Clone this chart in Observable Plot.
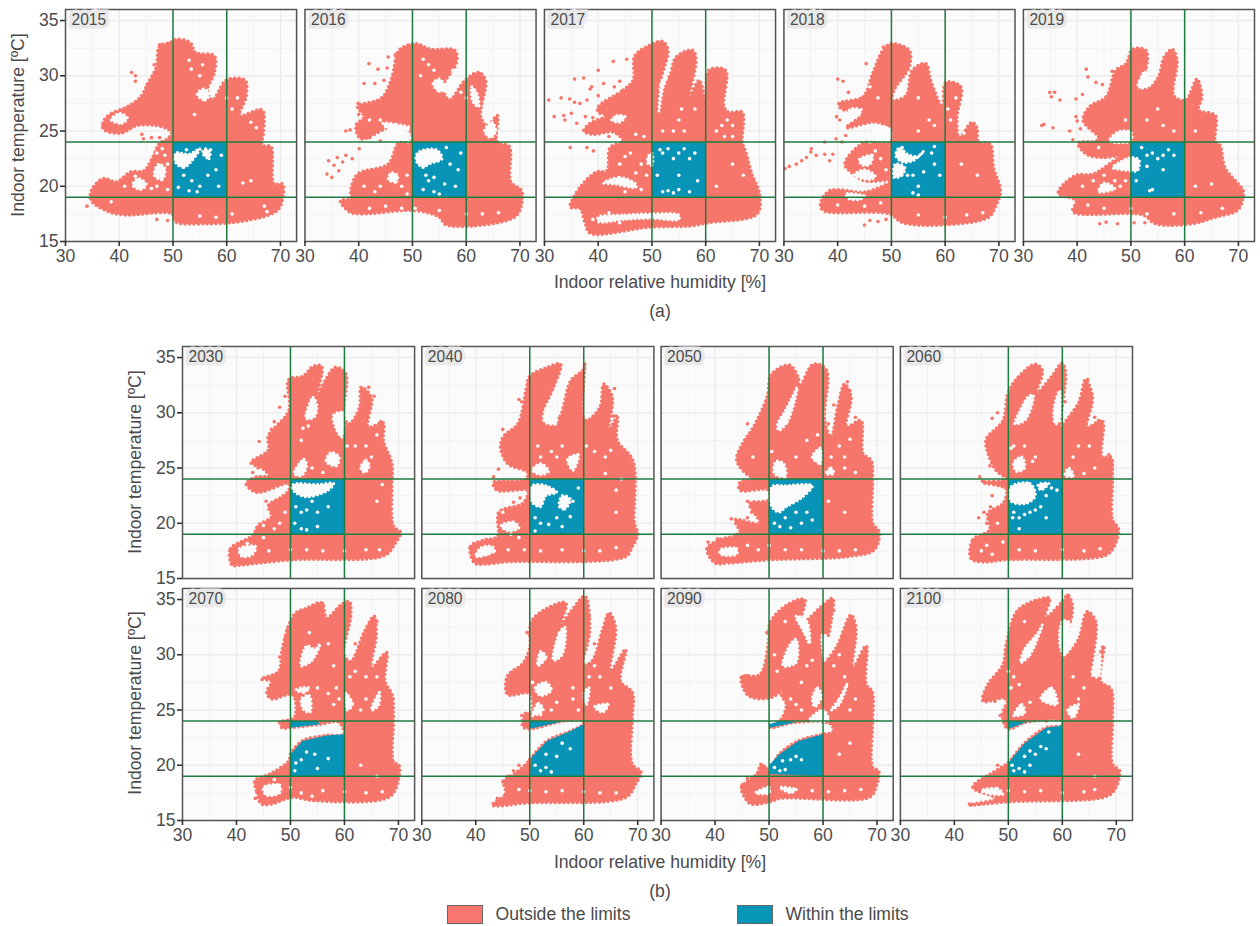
<!DOCTYPE html>
<html><head><meta charset="utf-8">
<script src="https://cdn.jsdelivr.net/npm/d3@7"></script>
<script src="https://cdn.jsdelivr.net/npm/@observablehq/plot@0.6"></script>
<style>
html,body{margin:0;padding:0;background:#fff;}
#root{position:relative;width:1260px;height:926px;overflow:hidden;font-family:"Liberation Sans",Arial,sans-serif;color:#4a4a4a;}
#root svg{position:absolute;left:0;background:transparent;}
.t{position:absolute;font-size:17.6px;white-space:nowrap;transform:translate(-50%,-50%);}
.r{transform:translate(-50%,-50%) rotate(-90deg);}
.sw{position:absolute;width:36px;height:19px;border:1px solid #666;box-sizing:border-box;}
</style></head><body><div id="root"></div>
<script>
const yearsHistoric=[2015,2016,2017,2018,2019];
const yearsFuture=[2030,2040,2050,2060,2070,2080,2090,2100];
const xTicks=[30,40,50,60,70], yTicks=[15,20,25,30,35];
const xMinor=[35,45,55,65], yMinor=[17.5,22.5,27.5,32.5];
const tempLimits=[19,24], humLimits=[50,60];
const square=[[50,19],[60,19],[60,24],[50,24]];

// outline of each cloud, holes in it, in-limit areas, isolated points, small holes (humidity %, temperature °C)
const outside2015=[[37.2,26],[38.6,26.6],[41.5,27.2],[44,28.1],[45.3,29.3],[46.9,30.8],[47.5,32.7],[49.4,33],[50.7,33.3],[53.2,33],[54.2,32.1],[57.7,31.8],[57.7,30.3],[56.4,28.7],[57.4,27.8],[59.9,29.6],[63.4,29.6],[63.6,28.1],[62.4,26.4],[66.6,26.9],[66.8,24.8],[66.6,23.7],[68.2,23.6],[68.8,20.2],[70.4,20.2],[70.4,18.9],[69.4,17.8],[63.7,16.9],[56,16.6],[50.4,16.8],[49.8,17.5],[41.1,17.4],[38,17.7],[34.8,18.7],[34.8,19.6],[37,20.7],[39.5,20.4],[42.1,21.3],[44.6,21.4],[46.2,22.6],[47.5,23.9],[49,24.3],[49.7,24.9],[47.8,25.4],[43.4,25.5],[40.2,24.8],[37,25.2]];
const gaps2015=[[[50.4,22.2],[52,21.7],[53.5,22.3],[55,23.4],[53,22.9],[50.5,23]],[[38.5,26],[40.5,25.7],[41.5,26.2],[40,26.6]],[[54.5,28.3],[56,27.8],[56.8,28.4],[55.6,28.8]],[[55.5,23],[56.7,22.5],[56.9,23.1],[56,23.4]],[[42.5,20.1],[44,19.7],[45,20.2],[43.5,20.7]],[[46.5,21],[48,20.6],[48.5,21.6],[47.3,22]]];
const within2015=[square];
const lone2015=[[34,18.2],[42.3,30.3],[43,30],[43,29.5],[44.2,24.7],[44.5,24.3],[46,24.4],[47.5,24.4],[47,17],[49,16.9],[45.2,29.2],[46.5,31],[47.5,32.8],[49.2,32.9],[60,29.5],[37,25.5],[38,25.1]];
const specks2015=[[52.5,23.3],[54,23],[52,21],[53.5,20.5],[55,20],[56.5,21],[58,21.5],[58.5,20],[53,19.6],[54.5,19.5],[51,19.9],[57,23.3],[59,22.8],[43,20.9],[41,20],[47,20],[49,22],[48.5,22.8],[47,23],[48,23.4],[49,19.7],[46,19.8],[38.5,18.6],[53,31.4],[53.4,30.6],[55,30],[55.5,31],[54,26.5],[60,28],[62,28],[61,27],[64.5,25.8],[65.5,25.3],[61,17.5],[58,17.2],[55,17.3],[63,20.3],[64.5,20.5],[67,18.2],[67.5,17.7]];

const outside2016=[[39.8,27.2],[44.3,28],[46.2,29.9],[47.5,32.3],[50.6,32.9],[53.4,32.4],[57.9,32.3],[58.2,31.2],[55.7,29],[56.9,27.8],[59.8,29.6],[62.3,30.3],[63.6,29.6],[62.7,26.3],[63.9,25.5],[65.8,26.4],[65.8,24],[68,23.6],[68.3,20.4],[70.3,19.6],[70.3,18.4],[69,17.2],[56.3,16.5],[55,17.2],[50.6,17.8],[40.4,17.5],[38.2,17.7],[36.6,18.7],[38.5,18.9],[38.5,19.6],[39.8,21.1],[45.5,22],[47.4,23.9],[49.7,23.9],[49.7,24.9],[46.8,25.5],[40.4,24.3],[39.5,25.5],[41,26.3]];
const gaps2016=[[[50.8,22.2],[52,21.7],[53,22],[55.5,22.5],[54.5,23.3],[51.5,23.2],[50.7,22.8]],[[44.5,25.7],[47,25.6],[49.5,25.3],[49,25.1],[46,25]],[[53.8,29.3],[55,28.6],[56.3,28.8],[55,29.7]],[[45.5,20.6],[47,20.4],[47.2,21],[46,21.2]],[[61,29],[62,28.4],[62.3,27.2],[61.3,27.6]],[[63.4,25],[64.8,25.8],[65.5,25],[64.5,24.4]]];
const within2016=[square];
const lone2016=[[34.1,21.1],[35,20.8],[36.3,21.4],[34.4,22.3],[36,22.6],[37.6,22.8],[38.8,22.5],[40.1,23.4],[35.4,21.9],[37,22.2],[37.6,25],[38.4,25.1],[41.9,31.1],[43.6,30.6],[45.5,31.7],[41,29.3],[43,29.3],[44.7,29.6],[45.3,30.7],[46.8,31.9],[39.9,27.5],[40,26.5],[42,24.4],[44,24.1],[62.5,30.2]];
const specks2016=[[52,19.7],[54,19.5],[55,19.3],[53,20.5],[56,20.2],[58,20],[58.5,21.5],[57,22],[59,23],[56.3,23.5],[54,20.8],[52.5,21],[41,20],[43,19.5],[44,20],[48,20],[49,21],[49,19.3],[42,18],[45,18.2],[48,18],[50.5,18],[53,31],[54,30.5],[51.5,30],[52,31.5],[57.5,30.5],[59,28.5],[60,28],[55,17.8],[60,17.5],[63,17.5],[66,17.6],[44,26],[42,26]];

const outside2017=[[40,27.2],[44.6,28.7],[46.5,29.6],[46.8,31.8],[49.3,32.7],[52,33.1],[53,32.3],[52,30.3],[51.1,28.7],[53.3,30],[54.5,31.7],[57.6,32.3],[58.2,31.4],[57,28.1],[58.8,29.6],[60,27.8],[60.6,30.5],[63.7,30.5],[63.4,27.2],[64.3,26.7],[66.8,26.7],[66.8,24],[67.4,23.2],[68.6,21.1],[70,19.3],[69.6,17.5],[60.6,16.7],[57,16.4],[49.6,16.3],[38.5,15.75],[37.6,16.6],[36.6,18],[34.8,18.1],[36.6,19.9],[39.7,21.3],[41.6,21.4],[42.2,23.5],[44.6,24.1],[42.8,24.9],[39.1,24.7],[37.3,25],[38.5,25.7],[41.6,26.4],[40,26.7]];
const gaps2017=[[[49.2,22.1],[50,21.9],[50,23],[49.3,22.7]],[[40,17.2],[45,17.4],[50,17.5],[55,17.4],[55,17],[50,17.1],[45,17],[40,16.8]],[[41,20.3],[44,20.8],[47,20.2],[47,19.9],[43,20.2]],[[51.3,26.8],[52,29.6],[52.6,29.7],[52,28.8]],[[42.5,26],[43.5,26.4],[45,26.3],[44,25.8]]];
const within2017=[square];
const lone2017=[[30.8,27.8],[33.1,28],[34.7,27.9],[35.6,27.6],[31.8,26.3],[33.6,26.4],[35,26.6],[35.6,29.7],[37.3,29.8],[38.8,29],[40,30.5],[42.8,31.3],[45.3,31.5],[34.8,23.5],[37.9,23.5],[39.1,23.2],[41,29.3],[36.6,27.5],[37.9,27.8],[38.5,28.8],[40,28.2],[43,29],[44,29.5],[36,25.7],[37.6,26.3],[39,26.2],[33.8,26],[41.8,25],[42,24.5]];
const specks2017=[[51.5,23.3],[52,23],[53,23.4],[54,22.5],[55,23],[56,23.4],[57,22.5],[58,23],[51,21],[53,19.6],[54,19.4],[55,19.7],[52,19.5],[55,21],[57,19.5],[58.5,20.5],[44,22],[45,22.7],[46,23],[48,22],[47,21.2],[49,21],[48,19.7],[45,19.5],[42,17.6],[39,17],[44,16.7],[62,25],[63,25.5],[64,26],[65,25.5],[63.5,24.5],[65,24.5],[55,26],[56,25],[54,25],[52,25],[47,24.7],[48.5,24.5],[65,22],[67,21],[62,20],[55.5,27],[58,27]];

const outside2018=[[40.2,27.5],[44.7,28.1],[46.5,30.2],[48.4,32.3],[49.9,32.9],[53.3,32.3],[53.3,30.8],[50.5,28.7],[50.2,27.8],[52.7,28.2],[53.9,30.5],[56.4,31.1],[57.3,29.6],[59.5,27.2],[60.1,29.4],[62.9,29],[62.2,26.2],[62.6,24.4],[65,25.8],[65.9,25.3],[66.2,24],[68.4,23.8],[69,21.7],[70.3,19.6],[69.3,18.1],[68.1,17.2],[59.5,16.5],[52.1,16.7],[49.6,17.5],[37.3,17.8],[36.8,18.4],[38.5,19.6],[45.3,19.5],[49.9,20.5],[45,20.5],[42.2,21.4],[41.3,22],[44.7,23.9],[49.9,24],[50,25.1],[47.1,25.8],[41.6,25.3],[44.7,26.6],[40.7,27]];
const gaps2018=[[[46.5,24.5],[49.7,24.5],[49.7,25.2],[47.5,25.3]],[[50.8,22.8],[52,22.2],[54,22.3],[56,23.2],[55,22.7],[53,22.9],[51.5,23.5]],[[50.5,20.8],[52,21],[52.5,21.7],[50.7,22]],[[43,21],[45,21.5],[47,20.9],[46,20.6]],[[44,22.4],[46.5,22.8],[46,22],[44.7,21.9]],[[41.5,26.5],[43.5,26.5],[44.5,26.9],[42.5,27]],[[41.5,19.3],[45,19.1],[44,18.8],[42,18.9]]];
const within2018=[square];
const lone2018=[[30.2,21.6],[31,21.8],[32.3,22],[33.3,22.3],[34.2,22.6],[35,23.1],[36,22.8],[37.6,22.9],[39.1,22.9],[35.1,23.4],[37.6,24],[39.7,24.3],[40.8,24],[41.5,24.6],[38.5,22.3],[40,29.7],[41,29.5],[42,28.5],[39.8,26.3],[40.4,26],[45.3,31.1],[47.5,31],[48.5,32.6],[45,16.5],[46,16.9],[47.5,16.8],[49,17]];
const specks2018=[[52,23.5],[53,21],[54,21],[55,20],[56,21.3],[57.5,23],[58,22],[59,21],[54,19.4],[55,19.2],[58,23.6],[46,24],[47,23.2],[48,22.5],[49,21.5],[45,24.5],[43,24.5],[55,28],[57,26],[58,25.5],[55,25],[60.5,27],[62,28],[61,26],[63.5,24.8],[60,17.2],[64,17.4],[67,17.6],[55,17.4],[40,18.3],[45,18.2],[48,18.5],[63,22],[66,21],[47.5,28],[46,29]];

const outside2019=[[42.3,27.2],[45.4,28.1],[47.2,30.5],[49.1,31.1],[50.3,32.4],[52.8,32.3],[52.8,30.5],[51.3,28.8],[53.5,28.9],[55.2,30],[56.2,31.7],[57.7,32.4],[58.6,31.4],[58,28.2],[60.2,27.8],[62.3,29.7],[63.2,28.1],[62.6,26.9],[65.7,26.4],[65.7,24.1],[66.6,23.7],[67.5,21.7],[70,20.2],[70.9,19.6],[70,17.9],[65.7,17.2],[61.4,16.6],[54.6,16.6],[52.2,17.4],[39.2,17.7],[39.8,18.7],[36.5,19.3],[36.8,19.8],[39.8,21],[42.9,21.1],[47.8,22.6],[49.5,22.9],[44.8,22.6],[41.7,22.9],[40.2,23.9],[43.5,24.1],[44,24.4],[41.1,25.95]];
const gaps2019=[[[46,24.1],[50,24.1],[50,24.9],[47.5,24.9]],[[46.6,21.7],[50,21.4],[51.2,21.4],[51.5,22.4],[50,22.6],[48,22.2]],[[51.3,29],[52.8,29.2],[52.6,30.4]],[[44,19.5],[47,19.8],[45,20.3]]];
const within2019=[square];
const lone2019=[[34.9,28.5],[35.2,28.1],[35.8,28.5],[36.8,27.8],[33.4,25.5],[33.8,25.6],[35.5,25.3],[41.7,30.6],[42,29.9],[39.8,27.9],[44.2,16.6],[45.4,16.75],[47.5,16.6],[50.6,16.7],[52.6,16.7],[38.6,25],[43.5,29.4],[39.8,26.3],[40.6,25.2],[39.2,24.2],[40,25.9],[44.7,29.2],[46.5,30.4],[41,28.3]];
const specks2019=[[52,23.5],[53,22.8],[54,23],[55,22.5],[56,22.8],[57,23.3],[58,22.8],[56,21.5],[53,21.8],[51,20.5],[53.5,19.6],[54,19.7],[41,20],[43,20.5],[45,21],[47,20.5],[48,20],[49,20.5],[42,18.3],[45,18],[50,18],[53,17.5],[58,17.5],[63,17.6],[67,18],[62,20],[65,20.2],[55,27],[56,25.5],[58,25],[53,26],[62,25],[47,24],[49,26],[44,23.5]];

const outside2030=[[39.2,16.2],[38.9,17.7],[43,18.9],[44,19.8],[46.5,20.6],[45.9,21.6],[48.4,22.4],[49.7,23],[49.7,23.6],[43.7,22.8],[41.8,23.6],[43.7,24.2],[46,24.3],[45,24.9],[42.7,25.5],[45.9,26.6],[45.9,27.9],[49.7,30.2],[49.7,33],[52.3,33.3],[54.2,34.2],[55.8,34.2],[54.8,31.4],[56.4,32.9],[58.3,34.1],[60.2,33.6],[59.9,29.6],[60.9,29],[62.8,30.5],[63.1,32.3],[65,31.4],[64.4,28.7],[67.2,29.1],[67.2,27.5],[68.8,25.4],[68.8,23.3],[69.1,19.7],[70.4,19.2],[69.4,18.2],[67.5,17.1],[50.4,16.7],[40.2,16.2]];
const gaps2030=[[[50.5,23],[50.5,23.5],[55,23.5],[58,23.6],[57,23],[52.8,22.4]],[[52.9,29.5],[54.2,31.4],[54.9,30.6],[54.4,29.6]],[[58,29.8],[59.7,30],[59.5,27.8],[58.5,28.5]],[[50.7,24.5],[52.5,25.8],[53,25.2],[52,24.3]],[[56.6,25.6],[58.5,25.2],[59,26],[57.5,26.4]],[[40.5,17.7],[43.5,17.9],[43,17.2],[41,17]],[[63,25],[64,25.7],[64.6,25.2],[63.8,24.6]]];
const within2030=[square];
const lone2030=[[43,24.6],[44,25],[44.2,27.4],[46.5,28.5],[47,29.2],[48,30.5],[49,31.5],[45.5,22],[47,21.5],[64.5,32.3],[65.5,31.5],[66.7,29.2]];
const specks2030=[[51,21.5],[52,21],[53,21.2],[54,22],[52,19.5],[53,19.4],[55,19.7],[50.8,20],[55,21],[57,21.5],[45,19.8],[47,19.5],[48,20],[49,21],[45,18.7],[42,18.2],[46,17.5],[50,17.6],[53,17.6],[56,17.5],[60,17.5],[64,17.6],[66.5,17.6],[66,22],[67,23.5],[52,27.5],[54,25],[56,24.6],[60.5,27],[62,27],[64,27],[65,26],[66,28],[52.3,28.6],[53.3,28.8],[45,27]];

const outside2040=[[39.8,16.4],[39,17.9],[41.7,18.5],[44,18.8],[44.3,21],[48.7,21.8],[49.7,22.7],[49.7,23],[43.9,23],[43.3,23.7],[49.3,24],[49.6,24.6],[45.9,25.4],[44.6,26.9],[45.2,27.9],[47.8,29],[49.4,32.3],[50,33.3],[53.2,34.1],[55.7,34.4],[54.4,32.3],[52.5,30],[54,30],[55.4,29.6],[57.6,32.9],[59.9,33.9],[60.2,34.5],[59.9,29.6],[60.5,29.3],[63,30.5],[63.7,32.6],[65.3,31.4],[64.6,28.4],[66.2,29.6],[66.2,27.5],[69.1,25.7],[69.4,20],[70,19],[69,17.9],[67.8,17],[45.5,16.5],[41.7,16.3]];
const gaps2040=[[[50.3,22],[52,21.5],[53,22.5],[55,22.8],[53,23.4],[50.5,23.4]],[[52.7,29.2],[54.8,29],[55,30],[54,31],[52.8,30.2]],[[55.5,21.5],[56.5,21.3],[57.5,22.2],[56,22.5]],[[50.5,24.8],[52,25.4],[53.5,24.7],[52,24.4]],[[57,25.8],[59,26.2],[58,24.8]],[[44.7,19.8],[47,20.1],[48,19.6],[46,19.3]],[[40,17],[43.5,17.5],[43,17.9],[41,17.8]]];
const within2040=[square];
const lone2040=[[43.3,24.2],[44.2,24.9],[44.2,20.9],[47,21.9],[48.2,22.3],[45,28.5],[48,31.2],[48.5,31],[65.7,32.2],[64.5,31.8],[65.5,29.7],[64.5,29.6],[66,29.7]];
const specks2040=[[51,20.5],[52,20],[53.5,19.9],[51,19.3],[55,20.5],[56,19.7],[58,22],[59,23.2],[57.5,20.6],[45,21],[46.5,19],[48,18.7],[46,17.6],[49,17.6],[52,17.5],[56,17.6],[60,17.5],[63,17.5],[66,17.8],[51.5,27],[52,26],[54,26.5],[55,26],[56,27],[60.5,27],[62,26.5],[64,26],[65,26.6],[64,24.5],[66,23],[67,24],[66,21],[42,17.2]];

const outside2050=[[40,16.4],[38.5,17.7],[40.7,18.5],[44.6,19.1],[43.7,20.3],[48.3,20],[46.4,21.8],[49.9,22.1],[49.9,23],[44.6,23],[44.6,23.7],[49.9,24],[46.6,24.2],[44,25.7],[45.2,27.3],[47.1,28.7],[49.6,31.4],[50.5,33.5],[53.8,34.3],[55.4,33.2],[55.7,32.4],[58.2,34.4],[60.6,33.9],[60.3,29.3],[61.5,27.8],[62.7,30.5],[64,32.6],[65.2,31.4],[64.3,28.7],[67,29.3],[67.4,26.3],[68.9,25.7],[69.2,24],[69.2,20],[70.4,19.2],[69.5,17.6],[64.9,17],[50.1,16.7],[42.4,16.4]];
const gaps2050=[[[51.8,28.4],[53.4,29.2],[54.8,31.2],[55.2,32.3],[54.3,31.4],[52.8,30],[51.6,29]],[[50.5,23.3],[53,23.4],[58,23.4],[56,22.3],[53.2,21.5],[51.8,21],[50.4,21.6]],[[51,24.5],[53,24.2],[52.7,25.4],[51.3,25.6]],[[58,26],[59.5,25.4],[59.5,26.8]],[[41,17.6],[44,17.7],[44,17.2],[41,17.2]],[[60.5,24.5],[61.5,25],[62,24.5]]];
const within2050=[square];
const lone2050=[[38.7,18.3],[40.5,18.6],[40,17],[40.7,16.5],[44,19],[43,20.4],[44.5,20],[46,22],[47.5,21.8],[46,20.5],[46.8,21],[46,29],[47,25],[46.5,24.5],[62,30.7],[64.5,32.8],[65,32],[66,29.6],[67,29],[61,29]];
const specks2050=[[51,20],[52,19.7],[53,20.5],[55,21],[56,20],[57,21],[58,20.3],[54,19.6],[50,18],[46,18],[48,17.6],[53,17.6],[56,17.6],[60,17.5],[63,17.5],[66,17.6],[61.5,26],[63,27],[64,26],[65,27.6],[64,25],[66,24.6],[47,26],[50.5,26.5],[55,26],[57,27.5],[59,28],[64,21],[61,22]];

const outside2060=[[43.1,16.8],[43.4,18.5],[46.5,19.4],[46.2,20.9],[49,21.8],[49.6,23.1],[45.3,23.7],[49.6,24],[47.7,24.8],[46.2,26.4],[45.9,27.6],[49,29.3],[49.9,31.7],[51.4,33],[55,34.4],[56.3,33.8],[55.1,31.7],[57.9,33.2],[60,34.5],[60.6,33.5],[59.7,28.7],[60.7,29.3],[63.1,31],[64.3,33],[65.6,31.4],[64.6,28.7],[67.4,29.3],[67.4,26],[69,26],[69.3,24],[69.3,20.3],[70.4,19.5],[69.6,17.9],[68,17.1],[49.6,16.7],[45.3,16.5]];
const gaps2060=[[[51.2,29],[53.2,29.4],[54.6,31.6],[53.8,31.5],[52,30]],[[58.7,29],[59.5,29.3],[59.5,32],[58.5,30.5]],[[50.5,23.3],[54,23.6],[55,22.5],[53.3,21.8],[50.5,22]],[[55.5,23.5],[57.5,23.6],[56,23]],[[51,25.5],[52.5,26],[53,25],[51.5,24.7]],[[60.5,24.3],[62,24.3],[61.2,25]]];
const within2060=[square];
const lone2060=[[46.6,25.2],[48,24.8],[45.2,23.8],[44.7,24.2],[47,22.5],[46.7,21.5],[45.5,21],[44.5,20.5],[46,20],[45,17.2],[43,17.3],[47,29.5],[48,30],[64.7,33],[66,29.6],[66.7,29.3],[68.6,26.2],[60.5,31]];
const specks2060=[[51,21],[50.8,20.5],[52,20.5],[53,20.8],[54,21],[55,21.2],[56,21.5],[57,22.5],[58,23.2],[59,23],[57,20.5],[52,19.5],[48,20],[49,18.3],[45,17.5],[46,18],[47,17.2],[52,17.6],[55,17.5],[60,17.6],[64,17.5],[67,17.7],[62,26],[63,27],[65,27],[66,25],[64,24.5],[51,27],[53,27],[55,26],[50.5,26.8],[54.5,25.6]];

const outside2070=[[44.6,16.5],[43.7,17.7],[43.4,18.6],[46.2,19.2],[49.7,20.4],[50,21],[52.2,22.2],[56.7,22.7],[59.9,22.8],[58.9,23.9],[55.4,23.7],[50,23.4],[48.4,23.4],[48.1,23.9],[50.7,24.3],[50.4,26.4],[46.5,26],[45.6,26.6],[46.5,27.6],[44.6,27.8],[47.8,28.5],[48.4,30.3],[49.7,32.7],[51,33.8],[52.9,34.2],[55.8,34.7],[56.7,33.3],[59.3,34.5],[60.9,34.8],[61.2,33.6],[59.9,30],[61.2,29.4],[63.7,32.1],[65.5,33.5],[65.9,31.8],[65,28.8],[67.8,30.2],[67.5,27.6],[68.8,26.4],[69.1,24.3],[69.1,20.3],[70.1,20],[69.8,18.3],[68.2,17.1],[54.2,16.8],[50.4,17.1],[46.5,16.5]];
const gaps2070=[[[52,29],[54,29.5],[55.5,31],[54.5,30.5],[53,30.8]],[[52,26],[53.5,26.3],[53.6,24.8],[52.5,25]],[[60.3,26.5],[61.5,25.5],[60.5,25]],[[65,25],[66.5,26.6],[66.3,25.4]],[[51,26.8],[52.5,26.6],[53.5,27],[52,27]],[[45,18],[48,18.2],[48,17.5],[45.5,17.3]]];
const within2070=[[[50,19],[60,19],[60,22.8],[56.7,22.7],[52.2,22.2],[50,21]],[[50,23.4],[55.4,23.7],[55,24],[50,24]]];
const lone2070=[[48,23.9],[49.4,23.6],[59,24],[50.5,23.9],[49.5,32.3],[50,32.5],[49,31.5],[48,29.8],[66,33],[65.5,32.3],[67.7,30],[69,26],[44,18],[43.5,17],[46,19],[62,31],[56,34.6],[60.8,34.6]];
const specks2070=[[52,20.5],[53,21.2],[51,20.2],[50.8,19.5],[54.5,21],[55,19.7],[57,20.6],[47,18.7],[48,17.8],[50,18],[52,17.5],[54,17.2],[56,17.7],[60,17.6],[64,17.5],[67,17.6],[63,20],[66,19],[63,25],[64,26],[61,28],[62,28.5],[55,27],[58,25.5],[57,26.5],[58.5,27],[59,26],[64,28],[66,28],[53.5,32],[57,31],[58,29]];

const outside2080=[[43,16.4],[45.5,17.4],[45.2,18.6],[47.1,19.2],[49.7,20.3],[50.3,20.7],[53.2,22.2],[57.6,23.1],[59.9,23.7],[59.9,24],[56.3,24],[50,23.3],[48.7,23.5],[49,24.5],[50.3,24.8],[50,26.5],[45.9,26.4],[45.9,28.1],[48.7,29.2],[50,30.6],[50.3,33],[53.2,34.2],[56.7,34.7],[55.7,32.7],[57.6,33.9],[60.2,35.3],[61.1,32.1],[59.9,29.1],[61.5,29.4],[63.4,32.1],[64.7,33.8],[65.9,32.4],[64.9,28.5],[67.8,30.5],[66.8,27.6],[69,26.6],[69,24.3],[69,20.1],[70.6,19.4],[69.6,18.3],[67.8,17.1],[50,16.6]];
const gaps2080=[[[54.4,29.5],[55.5,32],[56.5,32.5],[56,30]],[[62,25.3],[64.5,25.5],[63.5,24.8]],[[51,27],[53,27.5],[54,26.8],[52,26.3]],[[51.5,29],[53,29.8],[52,30.3]],[[50.5,24.5],[51.6,25.6],[52.5,25]],[[60,26.5],[61,27],[60.5,25.5]]];
const within2080=[[[50,19],[60,19],[60,23.7],[57.6,23.1],[53.2,22.2],[50.3,20.7]],[[50,23.3],[56,23.95],[50,24]]];
const lone2080=[[48.5,24.5],[49.2,24.7],[50,20.5],[48,20],[47,19.5],[46,19],[45,18.5],[44,17],[62,31],[64.5,33.5],[65.5,33],[67.6,30.3],[50,31.8],[49.5,32],[60.5,34.6],[61,33.5],[69,26.2],[58.5,34]];
const specks2080=[[52,19.5],[53,19.8],[54,19.4],[51,20],[53,21],[55,20.8],[56,22],[57.5,21.5],[48,17.8],[50,17.7],[53,17.6],[56,17.7],[60,17.6],[63,17.5],[66,17.5],[54,25],[55,25.7],[58,26],[59,25],[61,28],[62,29],[63,28],[65,27],[58,27],[50.5,27.5],[52,24.6]];

const outside2090=[[45.5,17.1],[44.9,18],[47.7,19.2],[48.6,20.1],[50.2,19.4],[51.7,20.9],[55.4,22.2],[60,22.8],[61.8,23],[61.5,23.7],[55.1,23.9],[50.2,23.4],[52.3,24.2],[53.2,25.5],[52.3,26.4],[53.2,27],[50.2,26.1],[46.2,26.3],[44.9,28],[48.3,28.2],[49.9,31.2],[50.2,32.9],[53.3,34.5],[56.6,35],[55.7,32.7],[60,34.5],[61.8,35.1],[61.5,33],[60.3,29.4],[62.4,30.6],[65.2,33.6],[66.1,32.4],[65.5,28.8],[68,30.8],[68,27.3],[69.1,26.7],[69.2,24],[69.2,19.8],[70.3,19.5],[69.8,18],[68.6,17.1],[52,17],[50.2,16.7],[46.6,16.5]];
const gaps2090=[[[52.6,29],[55,29.3],[55,31.4],[54,31]],[[57.5,24.1],[60,25],[61,24.1]],[[61.5,25],[63,26],[64.5,27.4],[63,25.5]],[[58,26],[59,27],[59.7,26.2],[58.5,25.3]],[[55,33.5],[57,33],[57.5,31],[56.5,32]],[[60.3,29.5],[61,31.5],[59.9,31.8]],[[47.5,17.5],[50,18],[50,17.5]],[[52,18],[55,17.8],[54,17.5]]];
const within2090=[[[50.2,19.2],[60,19],[60,22.8],[55.4,22.2],[51.7,20.9],[50,20]],[[50,23.4],[55,23.9],[52,24],[50,23.7]]];
const lone2090=[[45,18.2],[46,18.8],[46.5,17],[48,17],[48.7,20],[49.5,19.7],[45,28],[46,28.1],[49.5,29.5],[49.6,32],[65,33.5],[65.5,33],[68,30.6],[69,26.5],[62,34],[53,26.8],[51,23.5]];
const specks2090=[[52,19.5],[53,19.6],[51,19.8],[54,20.5],[55,20.8],[56,20.5],[52.5,20.4],[58,17.7],[61,17.6],[64,17.7],[67,17.8],[50,17.7],[63,21],[65,22],[65,25],[66,26],[62,29],[63,30],[64,28],[56,27.5],[58,29.5],[57,29],[53,33],[51,30],[51.5,28.5],[54,26],[55,25.5],[56,25]];

const outside2100=[[42.8,16.4],[47.7,17],[43.4,18],[47.7,19.5],[49.9,20.2],[50.8,20.7],[53,22],[57,23.4],[60,23.6],[60,24],[53.3,23.9],[49.9,23.3],[48.9,24.6],[49.9,26.1],[45.3,25.8],[46.2,27.3],[49,29.1],[49.6,30.9],[51.7,34],[55.7,35],[57.6,35.1],[56.7,33.3],[60,34.8],[61,35.4],[61.9,34.3],[60,29.7],[61,30],[63.1,31.5],[64.6,33.9],[66.2,33],[65.3,28.2],[67.7,30.8],[67.1,27.6],[69,26.9],[69.3,24],[69.3,20.1],[70.6,19.5],[69.6,17.7],[67.7,17.1],[50.2,16.7]];
const gaps2100=[[[52.3,29.3],[54,30],[56.3,32.7],[55.5,32],[53,30.5]],[[60.3,29.9],[61.2,33],[60,33],[59.5,31]],[[51,24.5],[52.5,25.5],[53,24.7]],[[61,25],[63,25.5],[62,24.3]],[[56,26],[58,27],[59,25.5]],[[65.5,28.2],[67,30],[66.7,28]],[[45,17.7],[48,17.9],[49,17.4],[46.5,17.4]]];
const within2100=[[[50,19],[60,19],[60,23.6],[57,23.4],[53,22],[50.8,20.7],[50,20.2]],[[50,23.3],[53.3,23.9],[50,24]]];
const lone2100=[[42.8,16.5],[44,18],[45,18.5],[46,19],[48,20],[47.5,25.8],[48.5,24.5],[49.5,26],[64.8,33.5],[65.5,33.2],[67.5,30.7],[69,26.6],[55,34.9],[57.5,35],[61,35.4],[57,24]];
const specks2100=[[51,19.5],[52,19.7],[53,19.4],[54,20],[53,20.8],[54,21.3],[55,21],[56,21.7],[57,21.5],[50.7,20],[57.5,23],[50,17.7],[53,17.6],[56,17.7],[60,17.5],[64,17.6],[66,17.8],[63,21],[66,19],[63,26],[64,27],[62,28],[50.5,27],[52,27.3],[54,25.7],[51,28],[50,28.5],[53,33]];

const sources={2015:[outside2015,gaps2015,within2015,lone2015,specks2015],2016:[outside2016,gaps2016,within2016,lone2016,specks2016],2017:[outside2017,gaps2017,within2017,lone2017,specks2017],2018:[outside2018,gaps2018,within2018,lone2018,specks2018],2019:[outside2019,gaps2019,within2019,lone2019,specks2019],2030:[outside2030,gaps2030,within2030,lone2030,specks2030],2040:[outside2040,gaps2040,within2040,lone2040,specks2040],2050:[outside2050,gaps2050,within2050,lone2050,specks2050],2060:[outside2060,gaps2060,within2060,lone2060,specks2060],2070:[outside2070,gaps2070,within2070,lone2070,specks2070],2080:[outside2080,gaps2080,within2080,lone2080,specks2080],2090:[outside2090,gaps2090,within2090,lone2090,specks2090],2100:[outside2100,gaps2100,within2100,lone2100,specks2100]};

const RED="#f6766b", BLUE="#0794b6", GREEN="#1c7c40", BG="#fbfbfb", INK="#4d4d4d";
const ROUND="catmull-rom-closed";

function polys(years,idx,kind){
  const rows=[];
  for(const yr of years){
    const list=idx===0?[sources[yr][0]]:sources[yr][idx];
    list.forEach((poly,i)=>poly.forEach(([h,t])=>rows.push({h,t,yr,id:kind+yr+"-"+i,row:yr<2070?0:1})));
  }
  return rows;
}
function pts(years,idx){
  const rows=[];
  for(const yr of years) for(const [h,t] of sources[yr][idx]) rows.push({h,t,yr,row:yr<2070?0:1});
  return rows;
}
function build(years,opt,future){
  const col=d=>[2030,2070].includes(d.yr)?0:[2040,2080].includes(d.yr)?1:[2050,2090].includes(d.yr)?2:3;
  const outl=polys(years,0,"o"), blue=polys(years,2,"b"), gaps=polys(years,1,"g");
  const labs=years.map(yr=>({yr,row:yr<2070?0:1}));
  const f=future?{fx:col,fy:"row"}:{fx:"yr"};
  return Plot.plot({
    ...opt,
    style:{fontFamily:'"Liberation Sans",Arial,sans-serif',color:INK,background:"transparent",overflow:"visible"},
    x:{domain:[30,73],axis:null},
    y:{domain:[15,36],axis:null},
    fx:{axis:null,paddingInner:opt.pi,round:false,domain:future?[0,1,2,3]:years},
    fy:future?{axis:null,paddingInner:opt.piy,round:false,domain:[0,1]}:undefined,
    marks:[
      Plot.frame({fill:BG,stroke:null}),
      Plot.ruleX(xMinor,{stroke:"#f1f1f1",strokeWidth:0.8}),
      Plot.ruleY(yMinor,{stroke:"#f1f1f1",strokeWidth:0.8}),
      Plot.ruleX(xTicks,{stroke:"#ececec",strokeWidth:1.4}),
      Plot.ruleY(yTicks,{stroke:"#ececec",strokeWidth:1.4}),
      Plot.line(outl,{x:"h",y:"t",z:"id",...f,curve:ROUND,tension:0.5,fill:RED,stroke:null}),
      Plot.line(outl,{x:"h",y:"t",z:"id",...f,curve:ROUND,tension:0.5,stroke:RED,strokeWidth:3.4,strokeDasharray:"0.1 4.3",strokeLinecap:"round"}),
      Plot.dot(pts(years,3),{x:"h",y:"t",...f,r:1.8,fill:RED}),
      Plot.line(blue,{x:"h",y:"t",z:"id",...f,fill:BLUE,stroke:null}),
      Plot.line(gaps,{x:"h",y:"t",z:"id",...f,curve:ROUND,tension:0.5,fill:BG,stroke:BG,strokeWidth:3,strokeDasharray:"0.1 4",strokeLinecap:"round"}),
      Plot.dot(pts(years,4),{x:"h",y:"t",...f,r:1.8,fill:BG}),
      Plot.ruleX(humLimits,{stroke:GREEN,strokeWidth:1.5}),
      Plot.ruleY(tempLimits,{stroke:GREEN,strokeWidth:1.5}),
      Plot.frame({stroke:"#555",strokeWidth:1.5}),
      Plot.text(labs,{...f,text:d=>String(d.yr),frameAnchor:"top-left",dx:6,dy:4,fontSize:15.6,fill:"#4d4d4d",stroke:"#e9e9e9",strokeWidth:7,strokeLinejoin:"miter",paintOrder:"stroke",lineAnchor:"top"}),
      Plot.axisX({ticks:xTicks,anchor:"bottom",label:null,fontSize:17.6,tickSize:5,tickPadding:3,strokeWidth:1.6,stroke:"#333",fill:INK}),
      Plot.axisY({ticks:yTicks,anchor:"left",label:null,fontSize:17.6,tickSize:5,tickPadding:2,strokeWidth:1.6,stroke:"#333",fill:INK})
    ]
  });
}
const root=document.getElementById("root");
const top1=build(yearsHistoric,{width:1260,height:275,marginTop:9,marginBottom:34,marginLeft:65,marginRight:6,pi:0.035},false);
top1.style.top="0px"; root.appendChild(top1);
const top2=build(yearsFuture,{width:1260,height:534,marginTop:26,marginBottom:34,marginLeft:182,marginRight:128,pi:0.03,piy:0.041},true);
top2.style.top="320px"; root.appendChild(top2);
function label(txt,x,y,cls){const d=document.createElement("div");d.className="t "+(cls||"");d.textContent=txt;d.style.left=x+"px";d.style.top=y+"px";root.appendChild(d);}
label("Indoor temperature [ºC]",18,125,"r");
label("Indoor temperature [ºC]",135,462,"r");
label("Indoor temperature [ºC]",135,703,"r");
label("Indoor relative humidity [%]",660,282);
label("Indoor relative humidity [%]",660,862);
label("(a)",660,311);
label("(b)",660,891);
function sw(x,c){const d=document.createElement("div");d.className="sw";d.style.left=x+"px";d.style.top="905px";d.style.background=c;root.appendChild(d);}
sw(447,"#f8766d");sw(737,"#0795b8");
label("Outside the limits",563,914);
label("Within the limits",847,914);
</script></body></html>
